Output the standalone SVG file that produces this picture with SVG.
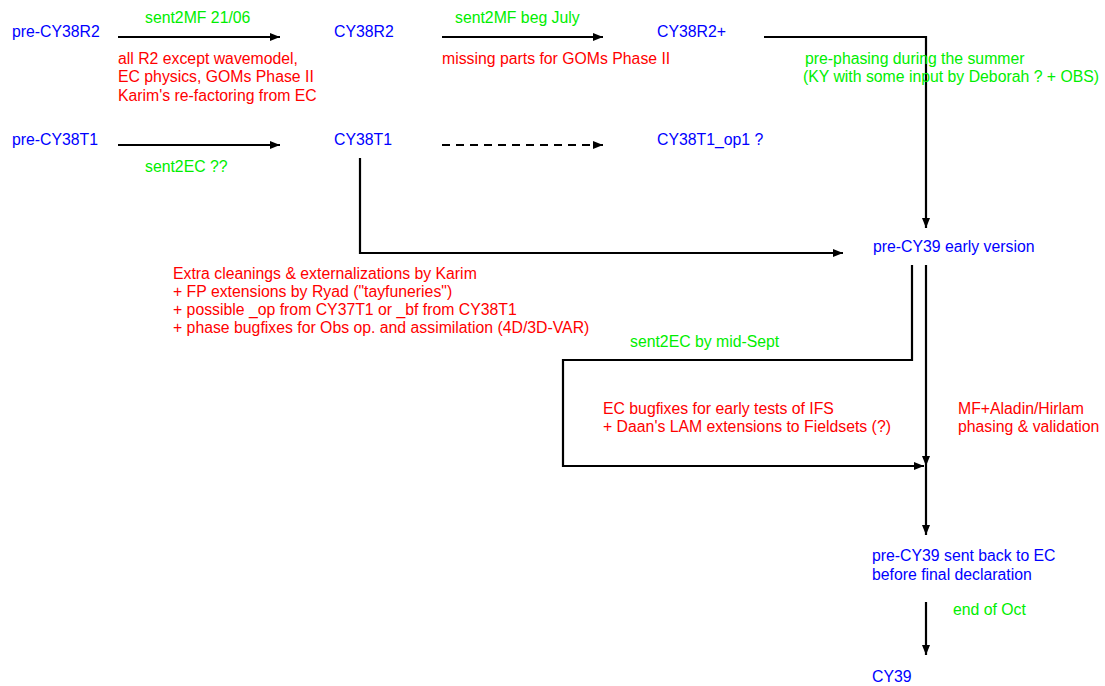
<svg xmlns="http://www.w3.org/2000/svg" width="1105" height="686" viewBox="0 0 1105 686">
<style>
text{font-family:"Liberation Sans",Arial,sans-serif;font-size:15.8px}
.n{fill:#0000ff}
.r{fill:#ff0000}
.g{fill:#00ee00}
.c{fill:none;stroke:#000;stroke-width:2.2}
.d{stroke-dasharray:8 6}
</style>
<defs>
<marker id="ah" viewBox="0 0 10 8" refX="10" refY="4" markerWidth="10" markerHeight="8" markerUnits="userSpaceOnUse" orient="auto">
<path d="M0,0 L10,4 L0,8 Z" fill="#000"/>
</marker>
</defs>
<rect width="1105" height="686" fill="#fff"/>
<g id="connectors">
<path class="c" d="M118,37 H280" marker-end="url(#ah)"/>
<path class="c" d="M442,37 H603" marker-end="url(#ah)"/>
<path class="c" d="M764,37 H926 V228" marker-end="url(#ah)"/>
<path class="c" d="M118,145 H280" marker-end="url(#ah)"/>
<path class="c d" d="M442,145 H603" marker-end="url(#ah)"/>
<path class="c" d="M360,158 V253 H843" marker-end="url(#ah)"/>
<path class="c" d="M912,265 V360 H563 V466 H924" marker-end="url(#ah)"/>
<path class="c" d="M926,265 V466" marker-end="url(#ah)"/>
<path class="c" d="M926,466 V535" marker-end="url(#ah)"/>
<path class="c" d="M926,602 V655" marker-end="url(#ah)"/>
</g>
<g id="labels">
<text class="g" x="145" y="23">sent2MF 21/06</text>
<text class="r" x="118" y="64">all R2 except wavemodel,</text>
<text class="r" x="118" y="82">EC physics, GOMs Phase II</text>
<text class="r" x="118" y="101">Karim's re-factoring from EC</text>
<text class="g" x="455" y="23">sent2MF beg July</text>
<text class="r" x="442" y="64">missing parts for GOMs Phase II</text>
<text class="g" x="805" y="64">pre-phasing during the summer</text>
<text class="g" x="803" y="82">(KY with some input by Deborah ? + OBS)</text>
<text class="g" x="145" y="172">sent2EC ??</text>
<text class="r" x="173" y="279">Extra cleanings &amp; externalizations by Karim</text>
<text class="r" x="173" y="297">+ FP extensions by Ryad ("tayfuneries")</text>
<text class="r" x="173" y="315">+ possible _op from CY37T1 or _bf from CY38T1</text>
<text class="r" x="173" y="333">+ phase bugfixes for Obs op. and assimilation (4D/3D-VAR)</text>
<text class="g" x="630" y="347">sent2EC by mid-Sept</text>
<text class="r" x="603" y="414">EC bugfixes for early tests of IFS</text>
<text class="r" x="603" y="432">+ Daan's LAM extensions to Fieldsets (?)</text>
<text class="r" x="958" y="414">MF+Aladin/Hirlam</text>
<text class="r" x="958" y="432">phasing &amp; validation</text>
<text class="g" x="953" y="615">end of Oct</text>
</g>
<g id="pre-CY38R2"><text class="n" x="12" y="37">pre-CY38R2</text></g>
<g id="CY38R2"><text class="n" x="334" y="37">CY38R2</text></g>
<g id="CY38R2plus"><text class="n" x="657" y="37">CY38R2+</text></g>
<g id="pre-CY38T1"><text class="n" x="12" y="145">pre-CY38T1</text></g>
<g id="CY38T1"><text class="n" x="334" y="145">CY38T1</text></g>
<g id="CY38T1_op1"><text class="n" x="657" y="145">CY38T1_op1 ?</text></g>
<g id="pre-CY39-early"><text class="n" x="873" y="252">pre-CY39 early version</text></g>
<g id="pre-CY39-sent"><text class="n" x="872" y="561">pre-CY39 sent back to EC</text><text class="n" x="872" y="580">before final declaration</text></g>
<g id="CY39"><text class="n" x="872" y="682">CY39</text></g>
</svg>
